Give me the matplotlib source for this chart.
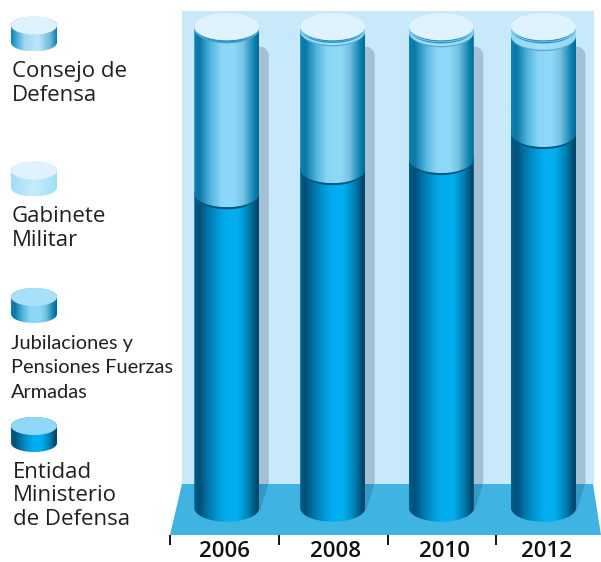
import numpy as np
import matplotlib
matplotlib.use("Agg")
import matplotlib.pyplot as plt
from matplotlib.colors import LinearSegmentedColormap
from matplotlib.patches import Polygon, Ellipse, Rectangle
from matplotlib.path import Path
from matplotlib.patches import PathPatch

years = ["2006", "2008", "2010", "2012"]
entidad = [65.3, 70.3, 72.4, 77.8]
jubilaciones = [34.3, 28.7, 26.4, 20.2]
gabinete = [0.2, 0.7, 0.8, 1.6]
consejo = [0.2, 0.3, 0.4, 0.4]

legend_labels = ["Consejo de\nDefensa", "Gabinete\nMilitar",
                 "Jubilaciones y\nPensiones Fuerzas\nArmadas", "Entidad\nMinisterio\nde Defensa"]

W, H = 601, 562
FLOOR_Y = 535
PX_PER_UNIT = 4.815
BASE_Y = 508
centers = [226.8, 332.7, 441.3, 543.5]
HW, HH = 32.5, 13.7
tick_edges = [170, 279, 388, 496]
label_centers = [224, 336, 444, 547]


def cmap(stops):
    return LinearSegmentedColormap.from_list("c", stops, N=256)


dark = cmap([(0, "#005E8A"), (.08, "#004F77"), (.2, "#0072A5"), (.38, "#009BD8"), (.5, "#00AEEF"),
             (.68, "#00AEEF"), (.85, "#007DAF"), (.97, "#00476B"), (1, "#00476B")])
light = cmap([(0, "#0A84B4"), (.08, "#0A76A6"), (.25, "#4FB4DD"), (.42, "#8BD6F6"), (.62, "#8FD8F8"),
              (.76, "#76C2E2"), (.93, "#0A82B0"), (1, "#006C98")])
gab = cmap([(0, "#8FD8F8"), (.5, "#A4E0FA"), (1, "#8FD8F8")])
cons = cmap([(0, "#0288BD"), (.3, "#A2DAF3"), (.6, "#BDE6F9"), (.85, "#6FBBDC"), (1, "#0A7FAF")])
gab_leg = cmap([(0, "#9FDDF9"), (.5, "#C6ECFC"), (1, "#9FDDF9")])

plt.rcParams["font.family"] = ["Open Sans", "DejaVu Sans"]
fig = plt.figure(figsize=(W / 100, H / 100), dpi=100)

# pixel-space backdrop and legend
bg = fig.add_axes([0, 0, 1, 1])
bg.set_xlim(0, W)
bg.set_ylim(H, 0)
bg.axis("off")
bg.add_patch(Rectangle((182, 11), 412, 473, fc="#C7E9F9", ec="none"))
bg.add_patch(Polygon([(182, 484), (593, 484), (601, 535), (170, 535)], fc="#3FB4E2", ec="none"))


def arc(x, y, hw, hh, a0, a1, n=60):
    t = np.radians(np.linspace(a0, a1, n))
    return np.column_stack([x + hw * np.cos(t), y + hh * np.sin(t)])


def body(ax, x, y0, y1, hw, hh, cm, sign):
    """Gradient cylinder section between two baselines; sign flips for an inverted y axis."""
    low = arc(x, y0, hw, sign * hh, 180, 0)
    top = arc(x, y1, hw, sign * hh, 0, -180)
    pts = np.vstack([low, top])
    clip = PathPatch(Path(pts), transform=ax.transData, fc="none", ec="none")
    ax.add_patch(clip)
    lo, hi = min(pts[:, 1]), max(pts[:, 1])
    im = ax.imshow(np.linspace(0, 1, 256)[None, :], cmap=cm, extent=(x - hw, x + hw, lo, hi),
                   aspect="auto", origin="lower", interpolation="bilinear", zorder=2)
    im.set_clip_path(clip)


icons = [(25.5, 42.5, cons, "#DFF2FD"), (170.5, 187.5, gab_leg, "#DFF2FD"),
         (297, 314, light, "#A8E0FB"), (426, 443, dark, "#8FD8F8")]
for (yt, yb, cm, cap) in icons:
    body(bg, 34, yb, yt, 23, 9.0, cm, 1)
    bg.add_patch(Ellipse((34, yt), 46, 18, fc=cap, ec="none", zorder=3))
bg.set_xlim(0, W)
bg.set_ylim(H, 0)

ink = "#231F20"
bg.text(12, 101, legend_labels[0], fontsize=16, color=ink, va="baseline", linespacing=1.17, zorder=5)
bg.text(12, 246, legend_labels[1], fontsize=16, color=ink, va="baseline", linespacing=1.17, zorder=5)
bg.text(11, 398, legend_labels[2], fontsize=14.4, color=ink, va="baseline", linespacing=1.54, zorder=5,
        family="Lato")
bg.text(13, 525, legend_labels[3], fontsize=16, color=ink, va="baseline", linespacing=1.17, zorder=5)

# chart axes: value 0 sits at the cylinder base, bottom spine at the floor front
ax = fig.add_axes([0, 1 - FLOOR_Y / H, 1, FLOOR_Y / H])
ax.patch.set_alpha(0)
ax.set_xlim(0, W)
vb = (BASE_Y - FLOOR_Y) / PX_PER_UNIT
vt = BASE_Y / PX_PER_UNIT


def crescent(x, level, hh, extra, color, z):
    a = arc(x, level, HW, -hh, 180, 0)
    b = arc(x, level, HW, -(hh + extra), 0, 180)
    ax.add_patch(Polygon(np.vstack([a, b]), fc=color, ec="none", zorder=z))


def draw_cylinder(x, vals):
    hh = HH / PX_PER_UNIT
    total = sum(vals)
    # cast shadow
    back = (BASE_Y - 484) / PX_PER_UNIT
    top = total - 4.4
    corner = arc(x + HW + 1, top - 1.8, 8.5, 2.0, 0, 90)
    ax.add_patch(Polygon(np.vstack([[[x + HW - 1, back], [x + HW + 9.5, back]], corner,
                                    [[x + HW - 1, top + 0.2]]]),
                         fc="#A5C0D2", ec="none", zorder=1))
    ax.add_patch(Polygon([(x + HW - 1, back), (x + HW + 9, back), (x + HW + 1, back - 5.5), (x + HW - 1, back - 5.5)],
                         fc="#3499C4", ec="none", zorder=1))
    level = 0.0
    edges = []
    for v, cm in zip(vals, [dark, light, gab, gab]):
        body(ax, x, level, level + v, HW, hh, cm, -1)
        if level > 0:
            edges.append(level)
        level += v
    styles = [("#00567C", 0.42), ("#5FA9CC", 0.28), ("#2E93BC", 0.28)]
    for e, (col, extra) in zip(edges, styles):
        crescent(x, e, hh, extra, col, 3)
    ax.add_patch(Ellipse((x, total), 2 * HW, 2 * hh, fc="#DFF2FD", ec="none", zorder=4))
    crescent(x, total, hh, 0.3, "#2E93BC", 3.5)


for i, x in enumerate(centers):
    draw_cylinder(x, [entidad[i], jubilaciones[i], gabinete[i], consejo[i]])

ax.set_xlim(0, W)
ax.set_ylim(vb, vt)
for s in ax.spines.values():
    s.set_visible(False)
ax.set_yticks([])
ax.set_xticks(label_centers)
ax.set_xticklabels(years, fontsize=16, fontweight="semibold", color="#111111")
ax.set_xticks(tick_edges, minor=True)
ax.tick_params(axis="x", which="major", length=0, pad=4.2)
ax.tick_params(axis="x", which="minor", length=7.2, width=1.3, color="black")

fig.savefig("out.png", dpi=100)
